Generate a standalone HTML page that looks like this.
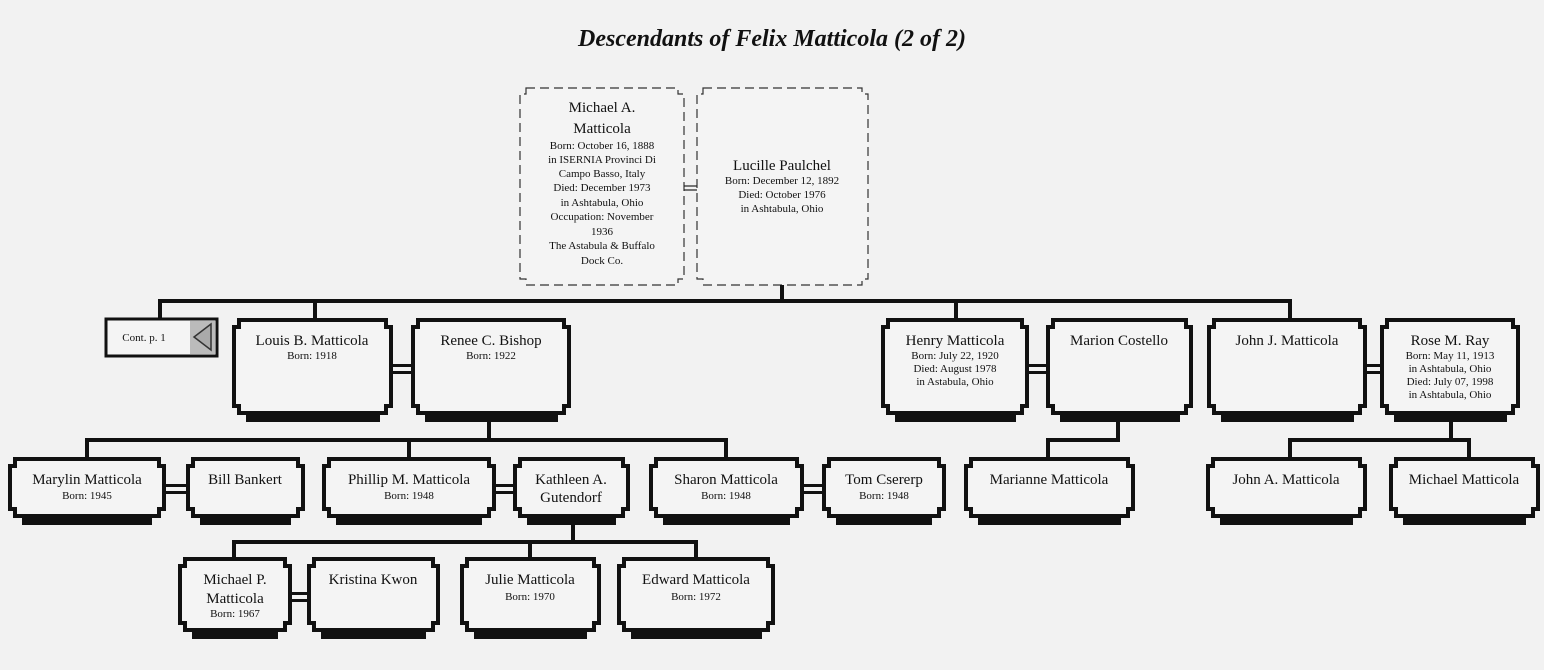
<!DOCTYPE html>
<html><head><meta charset="utf-8"><style>
html,body{margin:0;padding:0;background:#f2f2f2;}
svg{display:block;}
text{font-family:"Liberation Serif",serif;fill:#111;text-anchor:middle;}
.n{font-size:15px;}
.d{font-size:11px;}
.t{font-size:24px;font-weight:bold;font-style:italic;}
.b{fill:#f4f4f4;stroke:#111;stroke-width:4;}
.s{fill:#111;}
.ln{stroke:#111;stroke-width:4;fill:none;}
.dash{fill:#f4f4f4;stroke:#333;stroke-width:1.2;stroke-dasharray:9,5;}
</style></head><body>
<svg width="1544" height="670" viewBox="0 0 1544 670" xmlns="http://www.w3.org/2000/svg">
<text class="t" x="772" y="46">Descendants of Felix Matticola (2 of 2)</text>

<!-- top dashed boxes -->
<path class="dash" d="M526,88 H678 V94 H684 V279 H678 V285 H526 V279 H520 V94 H526 Z"/>
<path class="dash" d="M703,88 H862 V94 H868 V279 H862 V285 H703 V279 H697 V94 H703 Z"/>
<line x1="684" y1="186" x2="697" y2="186" stroke="#222" stroke-width="1.2"/>
<line x1="684" y1="190" x2="697" y2="190" stroke="#222" stroke-width="1.2"/>
<text class="n" x="602" y="112">Michael A.</text>
<text class="n" x="602" y="133">Matticola</text>
<text class="d" x="602" y="149">Born: October 16, 1888</text>
<text class="d" x="602" y="163">in ISERNIA Provinci Di</text>
<text class="d" x="602" y="177">Campo Basso, Italy</text>
<text class="d" x="602" y="191">Died: December 1973</text>
<text class="d" x="602" y="206">in Ashtabula, Ohio</text>
<text class="d" x="602" y="220">Occupation: November</text>
<text class="d" x="602" y="235">1936</text>
<text class="d" x="602" y="249">The Astabula &amp; Buffalo</text>
<text class="d" x="602" y="264">Dock Co.</text>
<text class="n" x="782" y="170">Lucille Paulchel</text>
<text class="d" x="782" y="184">Born: December 12, 1892</text>
<text class="d" x="782" y="198">Died: October 1976</text>
<text class="d" x="782" y="212">in Ashtabula, Ohio</text>

<!-- connectors -->
<path class="ln" d="M782,285 V301 M160,301 H1292 M160,299 V320 M315,299 V320 M956,299 V320 M1290,299 V320"/>
<path class="ln" d="M489,418 V440 M87,440 H728 M87,438 V458 M409,438 V458 M726,438 V458"/>
<path class="ln" d="M1118,418 V440 H1048 V458"/>
<path class="ln" d="M1451,418 V440 M1290,440 H1470 M1290,438 V458 M1469,438 V458"/>
<path class="ln" d="M573,520 V542 M234,542 H698 M234,540 V559 M530,540 V559 M696,540 V559"/>

<!-- spouse double lines -->
<g class="s">
<rect x="393" y="364" width="18" height="3"/><rect x="393" y="371" width="18" height="3"/>
<rect x="1029" y="364" width="17" height="3"/><rect x="1029" y="371" width="17" height="3"/>
<rect x="1367" y="364" width="13" height="3"/><rect x="1367" y="371" width="13" height="3"/>
<rect x="166" y="484" width="20" height="3"/><rect x="166" y="491" width="20" height="3"/>
<rect x="496" y="484" width="17" height="3"/><rect x="496" y="491" width="17" height="3"/>
<rect x="804" y="484" width="18" height="3"/><rect x="804" y="491" width="18" height="3"/>
<rect x="292" y="592" width="15" height="3"/><rect x="292" y="599" width="15" height="3"/>
</g>

<!-- cont box -->
<rect x="106" y="319" width="111" height="37" fill="#f4f4f4" stroke="#111" stroke-width="3"/>
<rect x="190" y="321" width="25" height="33" fill="#bbb"/>
<path d="M211,324 L194,337 L211,350 Z" fill="#aaa" stroke="#333" stroke-width="1.5"/>
<text x="144" y="341" style="font-size:11px">Cont. p. 1</text>

<!-- Row 1 boxes -->
<rect class="s" x="246" y="413" width="134" height="9"/>
<path class="b" d="M239,320 H386 V327 H391 V406 H386 V413 H239 V406 H234 V327 H239 Z"/>
<rect class="s" x="425" y="413" width="133" height="9"/>
<path class="b" d="M418,320 H564 V327 H569 V406 H564 V413 H418 V406 H413 V327 H418 Z"/>
<rect class="s" x="895" y="413" width="121" height="9"/>
<path class="b" d="M888,320 H1022 V327 H1027 V406 H1022 V413 H888 V406 H883 V327 H888 Z"/>
<rect class="s" x="1060" y="413" width="120" height="9"/>
<path class="b" d="M1053,320 H1186 V327 H1191 V406 H1186 V413 H1053 V406 H1048 V327 H1053 Z"/>
<rect class="s" x="1221" y="413" width="133" height="9"/>
<path class="b" d="M1214,320 H1360 V327 H1365 V406 H1360 V413 H1214 V406 H1209 V327 H1214 Z"/>
<rect class="s" x="1394" y="413" width="113" height="9"/>
<path class="b" d="M1387,320 H1513 V327 H1518 V406 H1513 V413 H1387 V406 H1382 V327 H1387 Z"/>
<text class="n" x="312" y="345">Louis B. Matticola</text>
<text class="d" x="312" y="359">Born: 1918</text>
<text class="n" x="491" y="345">Renee C. Bishop</text>
<text class="d" x="491" y="359">Born: 1922</text>
<text class="n" x="955" y="345">Henry Matticola</text>
<text class="d" x="955" y="359">Born: July 22, 1920</text>
<text class="d" x="955" y="372">Died: August 1978</text>
<text class="d" x="955" y="385">in Astabula, Ohio</text>
<text class="n" x="1119" y="345">Marion Costello</text>
<text class="n" x="1287" y="345">John J. Matticola</text>
<text class="n" x="1450" y="345">Rose M. Ray</text>
<text class="d" x="1450" y="359">Born: May 11, 1913</text>
<text class="d" x="1450" y="372">in Ashtabula, Ohio</text>
<text class="d" x="1450" y="385">Died: July 07, 1998</text>
<text class="d" x="1450" y="398">in Ashtabula, Ohio</text>

<!-- Row 2 boxes -->
<rect class="s" x="22" y="516" width="130" height="9"/>
<path class="b" d="M15,459 H159 V466 H164 V509 H159 V516 H15 V509 H10 V466 H15 Z"/>
<rect class="s" x="200" y="516" width="91" height="9"/>
<path class="b" d="M193,459 H298 V466 H303 V509 H298 V516 H193 V509 H188 V466 H193 Z"/>
<rect class="s" x="336" y="516" width="146" height="9"/>
<path class="b" d="M329,459 H489 V466 H494 V509 H489 V516 H329 V509 H324 V466 H329 Z"/>
<rect class="s" x="527" y="516" width="89" height="9"/>
<path class="b" d="M520,459 H623 V466 H628 V509 H623 V516 H520 V509 H515 V466 H520 Z"/>
<rect class="s" x="663" y="516" width="127" height="9"/>
<path class="b" d="M656,459 H797 V466 H802 V509 H797 V516 H656 V509 H651 V466 H656 Z"/>
<rect class="s" x="836" y="516" width="96" height="9"/>
<path class="b" d="M829,459 H939 V466 H944 V509 H939 V516 H829 V509 H824 V466 H829 Z"/>
<rect class="s" x="978" y="516" width="143" height="9"/>
<path class="b" d="M971,459 H1128 V466 H1133 V509 H1128 V516 H971 V509 H966 V466 H971 Z"/>
<rect class="s" x="1220" y="516" width="133" height="9"/>
<path class="b" d="M1213,459 H1360 V466 H1365 V509 H1360 V516 H1213 V509 H1208 V466 H1213 Z"/>
<rect class="s" x="1403" y="516" width="123" height="9"/>
<path class="b" d="M1396,459 H1533 V466 H1538 V509 H1533 V516 H1396 V509 H1391 V466 H1396 Z"/>
<text class="n" x="87" y="484">Marylin Matticola</text>
<text class="d" x="87" y="499">Born: 1945</text>
<text class="n" x="245" y="484">Bill Bankert</text>
<text class="n" x="409" y="484">Phillip M. Matticola</text>
<text class="d" x="409" y="499">Born: 1948</text>
<text class="n" x="571" y="484">Kathleen A.</text>
<text class="n" x="571" y="502">Gutendorf</text>
<text class="n" x="726" y="484">Sharon Matticola</text>
<text class="d" x="726" y="499">Born: 1948</text>
<text class="n" x="884" y="484">Tom Csererp</text>
<text class="d" x="884" y="499">Born: 1948</text>
<text class="n" x="1049" y="484">Marianne Matticola</text>
<text class="n" x="1286" y="484">John A. Matticola</text>
<text class="n" x="1464" y="484">Michael Matticola</text>

<!-- Row 3 boxes -->
<rect class="s" x="192" y="630" width="86" height="9"/>
<path class="b" d="M185,559 H285 V566 H290 V623 H285 V630 H185 V623 H180 V566 H185 Z"/>
<rect class="s" x="321" y="630" width="105" height="9"/>
<path class="b" d="M314,559 H433 V566 H438 V623 H433 V630 H314 V623 H309 V566 H314 Z"/>
<rect class="s" x="474" y="630" width="113" height="9"/>
<path class="b" d="M467,559 H594 V566 H599 V623 H594 V630 H467 V623 H462 V566 H467 Z"/>
<rect class="s" x="631" y="630" width="131" height="9"/>
<path class="b" d="M624,559 H768 V566 H773 V623 H768 V630 H624 V623 H619 V566 H624 Z"/>
<text class="n" x="235" y="584">Michael P.</text>
<text class="n" x="235" y="603">Matticola</text>
<text class="d" x="235" y="617">Born: 1967</text>
<text class="n" x="373" y="584">Kristina Kwon</text>
<text class="n" x="530" y="584">Julie Matticola</text>
<text class="d" x="530" y="600">Born: 1970</text>
<text class="n" x="696" y="584">Edward Matticola</text>
<text class="d" x="696" y="600">Born: 1972</text>
</svg>
</body></html>
